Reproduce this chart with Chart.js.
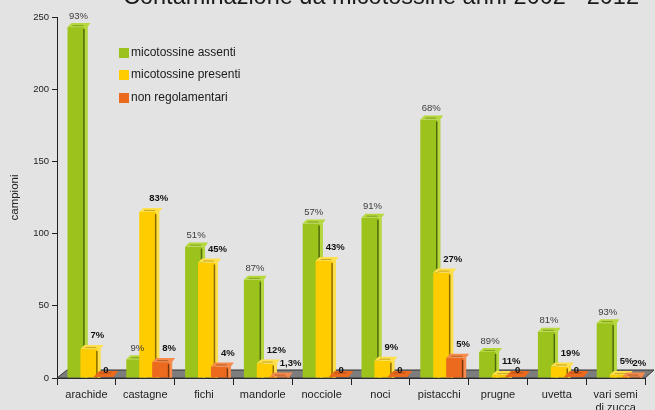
<!DOCTYPE html>
<html>
<head>
<meta charset="utf-8">
<script src="https://cdn.jsdelivr.net/npm/chart.js@4.4.1/dist/chart.umd.min.js"></script>
<style>
  html, body { margin: 0; padding: 0; background: #e3e3e3; }
  #wrap { width: 655px; height: 410px; }
</style>
</head>
<body>
<div id="wrap"><canvas id="c" width="655" height="410"></canvas></div>
<script>
const chartTitle = 'Contaminazione da micotossine anni 2002 - 2012';
const categories = ['arachide', 'castagne', 'fichi', 'mandorle', 'nocciole', 'noci', 'pistacchi', 'prugne', 'uvetta', ['vari semi', 'di zucca']];
const seriesNames = ['micotossine assenti', 'micotossine presenti', 'non regolamentari'];
const assenti  = [243, 13, 91, 68, 107, 111, 179, 18, 32, 38];
const presenti = [20, 115, 80, 10, 81, 12, 73, 2, 8, 2];
const nonReg   = [0, 11, 8, 1, 0, 0, 14, 0, 0, 1];
const pctAssenti  = ['93%', '9%', '51%', '87%', '57%', '91%', '68%', '89%', '81%', '93%'];
const pctPresenti = ['7%', '83%', '45%', '12%', '43%', '9%', '27%', '11%', '19%', '5%'];
const pctNonReg   = ['0', '8%', '4%', '1,3%', '0', '0', '5%', '0', '0', '2%'];
const yTicks = [0, 50, 100, 150, 200, 250];

const FONT = "'Liberation Sans', Arial, sans-serif";
Chart.defaults.font.family = FONT;

const palette = [
  { front: '#9bc31c', dark: '#4e6a0d', light: '#b6d83c' },
  { front: '#ffcc00', dark: '#8a6b00', light: '#ffe04a' },
  { front: '#ec6a1e', dark: '#7a3408', light: '#f58b4c' }
];
const pctLabels = [pctAssenti, pctPresenti, pctNonReg];

function drawBar(ctx, L, R, T, B, col, flat) {
  if (!flat) {
    ctx.fillStyle = col.front;
    ctx.fillRect(L, T, R - L, B - T);
    ctx.fillStyle = col.light;
    ctx.fillRect(R - 3, T, 3, B - T);
    ctx.strokeStyle = col.dark;
    ctx.lineWidth = 1.5;
    ctx.beginPath();
    ctx.moveTo(R - 3.5, T + 2);
    ctx.lineTo(R - 3.5, B);
    ctx.stroke();
    ctx.fillStyle = col.light;
    ctx.beginPath();
    ctx.moveTo(L, T);
    ctx.lineTo(L + 4, T - 4);
    ctx.lineTo(R + 3, T - 4);
    ctx.lineTo(R, T);
    ctx.closePath();
    ctx.fill();
    ctx.strokeStyle = col.dark;
    ctx.globalAlpha = 0.5;
    ctx.lineWidth = 1;
    ctx.beginPath();
    ctx.moveTo(L + 5, T - 1.5);
    ctx.lineTo(R - 4, T - 1.5);
    ctx.stroke();
    ctx.globalAlpha = 1;
  } else {
    ctx.fillStyle = col.front;
    ctx.beginPath();
    ctx.moveTo(L, B - 1);
    ctx.lineTo(L + 6, B - 7);
    ctx.lineTo(R + 5, B - 7);
    ctx.lineTo(R, B - 1);
    ctx.closePath();
    ctx.fill();
    ctx.strokeStyle = col.dark;
    ctx.globalAlpha = 0.5;
    ctx.lineWidth = 1;
    ctx.beginPath();
    ctx.moveTo(L + 6, B - 5);
    ctx.lineTo(R - 2, B - 5);
    ctx.stroke();
    ctx.globalAlpha = 1;
  }
}

const threeD = {
  id: 'threeD',
  beforeDatasetsDraw(chart) {
    const ctx = chart.ctx;
    const a = chart.chartArea;
    ctx.save();
    ctx.fillStyle = '#7d7d7d';
    ctx.beginPath();
    ctx.moveTo(a.left, a.bottom);
    ctx.lineTo(a.left + 10, a.bottom - 8);
    ctx.lineTo(a.right + 9, a.bottom - 8);
    ctx.lineTo(a.right, a.bottom);
    ctx.closePath();
    ctx.fill();
    ctx.strokeStyle = '#333';
    ctx.lineWidth = 1;
    ctx.beginPath();
    ctx.moveTo(a.left, a.bottom);
    ctx.lineTo(a.left + 10, a.bottom - 8);
    ctx.lineTo(a.right + 9, a.bottom - 8);
    ctx.lineTo(a.right, a.bottom);
    ctx.lineTo(a.left, a.bottom);
    ctx.stroke();

    const geo = [];
    chart.data.datasets.forEach((ds, di) => {
      const meta = chart.getDatasetMeta(di);
      geo[di] = [];
      meta.data.forEach((el, i) => {
        const p = el.getProps(['x', 'y', 'base', 'width'], true);
        const L = p.x - p.width / 2 + 0.5;
        const R = L + p.width + 7;
        const flat = ds.data[i] === 0;
        drawBar(ctx, L, R, p.y, p.base, palette[di], flat);
        geo[di][i] = { L, R, T: p.y, B: p.base, flat };
      });
    });
    ctx.textBaseline = 'middle';
    geo.forEach((arr, di) => {
      arr.forEach((g, i) => {
        const txt = pctLabels[di][i];
        if (di === 0) {
          ctx.font = '9.5px ' + FONT;
          ctx.fillStyle = '#3c3c3c';
          ctx.textAlign = 'center';
          ctx.fillText(txt, g.L + 11, g.T - 11);
        } else {
          ctx.font = 'bold 9.5px ' + FONT;
          ctx.fillStyle = '#111';
          ctx.textAlign = 'left';
          const y = g.flat ? g.B - 8 : g.T - 13.5;
          ctx.fillText(txt, g.L + 10, y);
        }
      });
    });
    ctx.restore();
    return false;
  },
  afterDraw(chart) {
    const ctx = chart.ctx;
    ctx.save();
    ctx.textBaseline = 'middle';
    ctx.textAlign = 'left';
    ctx.font = '12px ' + FONT;
    const ys = [53, 75, 98];
    chart.data.datasets.forEach((ds, di) => {
      ctx.fillStyle = ds.backgroundColor;
      ctx.fillRect(119, ys[di] - 5, 10, 10);
      ctx.fillStyle = '#1a1a1a';
      ctx.fillText(ds.label, 131, ys[di]);
    });
    ctx.font = '23.5px ' + FONT;
    ctx.fillStyle = '#1a1a1a';
    ctx.textAlign = 'center';
    ctx.textBaseline = 'alphabetic';
    ctx.fillText(chartTitle, 381, 4);
    ctx.restore();
  }
};

new Chart(document.getElementById('c'), {
  type: 'bar',
  data: {
    labels: categories,
    datasets: [
      { label: seriesNames[0], data: assenti, backgroundColor: palette[0].front },
      { label: seriesNames[1], data: presenti, backgroundColor: palette[1].front },
      { label: seriesNames[2], data: nonReg, backgroundColor: palette[2].front }
    ]
  },
  options: {
    responsive: false,
    animation: false,
    datasets: { bar: { categoryPercentage: 0.66, barPercentage: 1 } },
    layout: { padding: { top: 17, right: 10, left: 0, bottom: 0 } },
    scales: {
      x: {
        grid: { display: true, drawOnChartArea: false, tickLength: 7, color: '#222', offset: true },
        border: { color: '#222' },
        ticks: { font: { size: 11 }, color: '#222', padding: 3, maxRotation: 0, autoSkip: false },
        afterFit: s => { s.height = 32; }
      },
      y: {
        min: 0, max: 250,
        afterBuildTicks: s => { s.ticks = yTicks.map(v => ({ value: v })); },
        ticks: { font: { size: 9.5 }, color: '#222', padding: 3 },
        grid: { drawOnChartArea: false, tickLength: 5, color: '#222' },
        border: { color: '#222' },
        title: { display: true, text: 'campioni', font: { size: 11.5 }, color: '#222', padding: { top: 8, bottom: 0 } },
        afterFit: s => { s.width = 57; }
      }
    },
    plugins: {
      legend: { display: false },
      tooltip: { enabled: false }
    }
  },
  plugins: [threeD]
});
</script>
</body>
</html>
